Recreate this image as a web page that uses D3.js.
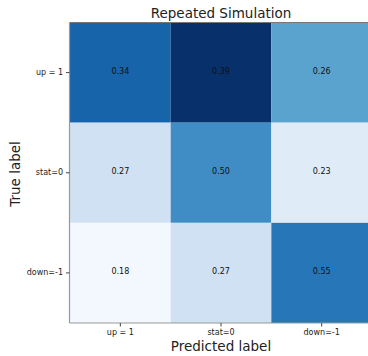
<!DOCTYPE html>
<html><head><meta charset="utf-8">
<script src="https://cdn.jsdelivr.net/npm/d3@7"></script>
<style>body{margin:0;background:#fff;} text{font-family:"DejaVu Sans",sans-serif;}</style>
</head><body><svg id="c" width="368" height="356"></svg>
<script>
const trueLabels = ["up = 1", "stat=0", "down=-1"];
const predLabels = ["up = 1", "stat=0", "down=-1"];
const values = [
  [0.34, 0.39, 0.26],
  [0.27, 0.50, 0.23],
  [0.18, 0.27, 0.55]
];
// shade level (colormap position)
const shade = [
  [0.80, 1.00, 0.55],
  [0.20, 0.64, 0.12],
  [0.02, 0.20, 0.73]
];

const svg = d3.select("#c");
const x = d3.scaleBand().domain(predLabels).range([70, 372]);
const y = d3.scaleBand().domain(trueLabels).range([22.5, 323]);
const color = d3.scaleSequential(d3.interpolateBlues).domain([0, 1]);

const cells = [];
trueLabels.forEach((t, i) => predLabels.forEach((p, j) => cells.push({t, p, v: values[i][j], s: shade[i][j]})));

svg.selectAll("rect.cell").data(cells).join("rect")
  .attr("x", d => x(d.p)).attr("y", d => y(d.t))
  .attr("width", x.bandwidth()).attr("height", y.bandwidth())
  .attr("fill", d => color(d.s));

svg.selectAll("text.val").data(cells).join("text")
  .attr("x", d => x(d.p) + x.bandwidth() / 2)
  .attr("y", d => y(d.t) + y.bandwidth() / 2 - 1)
  .attr("text-anchor", "middle").attr("dominant-baseline", "central")
  .attr("font-size", 8).attr("fill", "#111")
  .text(d => d.v.toFixed(2));

// frame
svg.append("line").attr("x1", 69.5).attr("x2", 69.5).attr("y1", 22.5).attr("y2", 323).attr("stroke", "#999").attr("stroke-width", 1.2);
svg.append("line").attr("x1", 69.5).attr("x2", 372).attr("y1", 323).attr("y2", 323).attr("stroke", "#999").attr("stroke-width", 1.2);
svg.append("line").attr("x1", 69.5).attr("x2", 372).attr("y1", 22.5).attr("y2", 22.5).attr("stroke", "#777").attr("stroke-width", 1);

const yAxis = svg.append("g").attr("transform", "translate(69.5,0)")
  .call(d3.axisLeft(y).tickSize(3.5).tickPadding(3));
const xAxis = svg.append("g").attr("transform", "translate(0,323)")
  .call(d3.axisBottom(x).tickSize(3.5).tickPadding(3));
[yAxis, xAxis].forEach(a => {
  a.select(".domain").remove();
  a.selectAll(".tick line").attr("stroke", "#444");
  a.selectAll(".tick text").attr("font-size", 8).attr("fill", "#222").attr("font-family", "DejaVu Sans, sans-serif");
});

svg.append("text").attr("x", 221).attr("y", 13).attr("text-anchor", "middle")
  .attr("dominant-baseline", "central").attr("font-size", 13.5).attr("fill", "#222").text("Repeated Simulation");
svg.append("text").attr("x", 221).attr("y", 346).attr("text-anchor", "middle")
  .attr("dominant-baseline", "central").attr("font-size", 13.5).attr("fill", "#222").text("Predicted label");
svg.append("text").attr("transform", "translate(15,174) rotate(-90)").attr("text-anchor", "middle")
  .attr("dominant-baseline", "central").attr("font-size", 13.5).attr("fill", "#222").text("True label");
</script></body></html>
